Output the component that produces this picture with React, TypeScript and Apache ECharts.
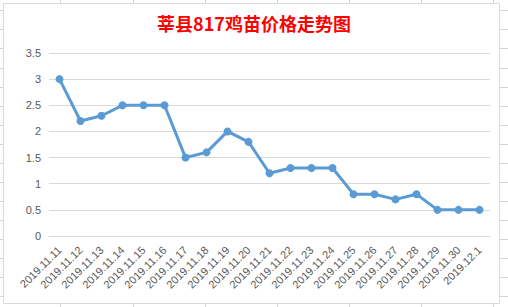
import React, { useEffect, useRef } from "react";
import * as echarts from "echarts";

const categories = [
  "2019.11.11", "2019.11.12", "2019.11.13", "2019.11.14", "2019.11.15", "2019.11.16",
  "2019.11.17", "2019.11.18", "2019.11.19", "2019.11.20", "2019.11.21", "2019.11.22",
  "2019.11.23", "2019.11.24", "2019.11.25", "2019.11.26", "2019.11.27", "2019.11.28",
  "2019.11.29", "2019.11.30", "2019.12.1",
];
const prices = [3, 2.2, 2.3, 2.5, 2.5, 2.5, 1.5, 1.6, 2.0, 1.8, 1.2, 1.3, 1.3, 1.3, 0.8, 0.8, 0.7, 0.8, 0.5, 0.5, 0.5];
const titleText = "莘县817鸡苗价格走势图";

const cellCols = [60, 133, 205, 277, 349, 421, 493];
const cellRows = [10, 29, 48, 68, 87, 106, 125, 144, 163, 182, 201, 220, 239, 258, 277, 296];

export default function App() {
  const ref = useRef<HTMLDivElement>(null);
  useEffect(() => {
    document.body.style.margin = "0";
    const chart = echarts.init(ref.current!, null, { renderer: "svg" });
    const sheet: any[] = [];
    cellCols.forEach((x) =>
      sheet.push({ type: "line", shape: { x1: x + 0.5, y1: 0, x2: x + 0.5, y2: 307 }, style: { stroke: "#D4D4D4", lineWidth: 1 }, silent: true })
    );
    cellRows.forEach((y) =>
      sheet.push({ type: "line", shape: { x1: 0, y1: y + 0.5, x2: 508, y2: y + 0.5 }, style: { stroke: "#D4D4D4", lineWidth: 1 }, silent: true })
    );
    sheet.push({
      type: "rect",
      shape: { x: 3.5, y: 3.5, width: 496, height: 300 },
      style: { fill: "#FFFFFF", stroke: "#D9D9D9", lineWidth: 1 },
      silent: true,
    });
    chart.setOption({
      animation: false,
      backgroundColor: "#FFFFFF",
      graphic: sheet,
      title: {
        text: titleText,
        left: "center",
        top: 14,
        padding: 0,
        textStyle: {
          color: "#FF0000",
          fontSize: 18,
          fontWeight: "bold",
          fontFamily: "Noto Sans CJK SC",
        },
      },
      grid: { left: 49, right: 18, top: 53, bottom: 71 },
      xAxis: {
        type: "category",
        data: categories,
        boundaryGap: true,
        axisLine: { show: true, lineStyle: { color: "#D9D9D9", width: 1 } },
        axisTick: { show: false },
        axisLabel: {
          rotate: 45,
          interval: 0,
          margin: 12,
          color: "#595959",
          fontSize: 11,
          fontFamily: "Liberation Sans Narrow, Liberation Sans",
        },
      },
      yAxis: {
        type: "value",
        min: 0,
        max: 3.5,
        interval: 0.5,
        axisLine: { show: false },
        axisTick: { show: false },
        splitLine: { lineStyle: { color: "#D9D9D9", width: 1 } },
        axisLabel: {
          margin: 8,
          color: "#595959",
          fontSize: 11,
          fontFamily: "Liberation Sans",
        },
      },
      series: [
        {
          type: "line",
          data: prices,
          symbol: "circle",
          symbolSize: 8,
          lineStyle: { color: "#5B9BD5", width: 3 },
          itemStyle: { color: "#5B9BD5" },
        },
      ],
    });
    return () => chart.dispose();
  }, []);
  return <div ref={ref} style={{ width: 508, height: 307 }} />;
}
